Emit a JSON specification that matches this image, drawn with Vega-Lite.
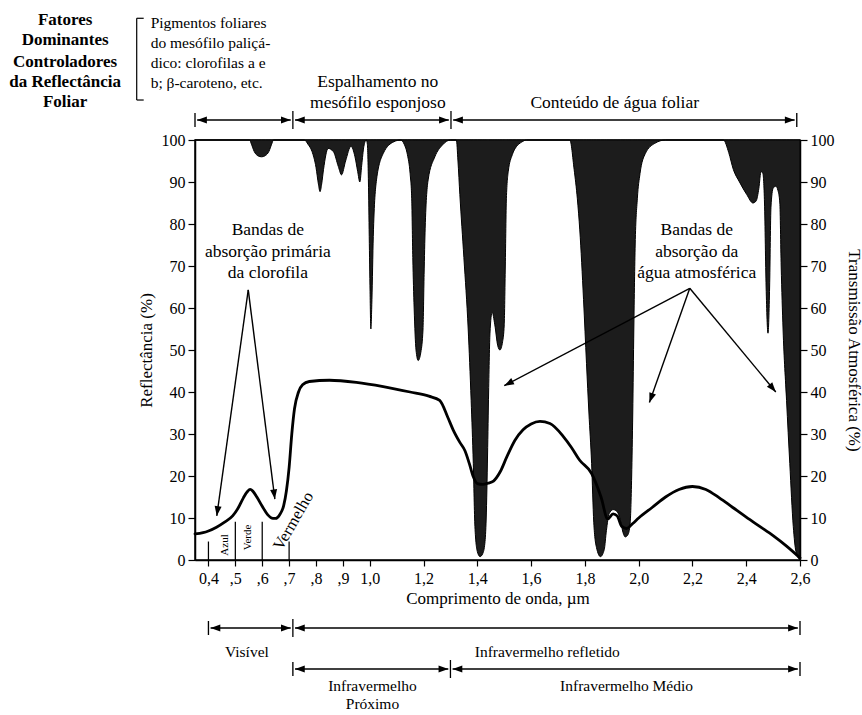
{
  "$schema": "https://vega.github.io/schema/vega-lite/v6.json",
  "width": 605,
  "height": 420,
  "autosize": "none",
  "padding": {"left": 195, "top": 140, "right": 62, "bottom": 155},
  "background": "white",
  "config": {
    "font": "Liberation Serif",
    "view": {"stroke": "black", "strokeWidth": 1.5},
    "axis": {
      "labelFont": "Liberation Serif", "titleFont": "Liberation Serif",
      "labelFontSize": 16, "titleFontSize": 17, "titleFontWeight": "normal",
      "labelColor": "black", "titleColor": "black", "domainColor": "black",
      "tickColor": "black", "domainWidth": 1.5, "tickWidth": 1.2, "tickSize": 7,
      "grid": false, "labelPadding": 3
    }
  },
  "datasets": {
    "trans": [
      {"lam":0.35,"T":100},{"lam":0.553,"T":100},{"lam":0.56,"T":99},{"lam":0.57,"T":97.3},{"lam":0.585,"T":96.2},{"lam":0.598,"T":96},{"lam":0.612,"T":96.3},{"lam":0.625,"T":97.3},{"lam":0.635,"T":99},{"lam":0.642,"T":100},
      {"lam":0.757,"T":100},{"lam":0.77,"T":99},{"lam":0.785,"T":97.3},{"lam":0.8,"T":93.5},{"lam":0.809,"T":89.5},{"lam":0.815,"T":87.7},{"lam":0.821,"T":89.5},{"lam":0.828,"T":93},{"lam":0.845,"T":98},{"lam":0.865,"T":97.2},{"lam":0.883,"T":93.7},{"lam":0.895,"T":91.7},{"lam":0.91,"T":95},{"lam":0.93,"T":98.5},{"lam":0.945,"T":96},{"lam":0.955,"T":92.5},{"lam":0.963,"T":90},{"lam":0.97,"T":94},{"lam":0.978,"T":98.5},{"lam":0.987,"T":100},
      {"lam":0.991,"T":99},{"lam":0.995,"T":90},{"lam":0.998,"T":77},{"lam":1.001,"T":64},{"lam":1.004,"T":55},{"lam":1.008,"T":62},{"lam":1.013,"T":77},{"lam":1.025,"T":90.5},{"lam":1.05,"T":96.8},{"lam":1.09,"T":99.6},{"lam":1.115,"T":100},
      {"lam":1.128,"T":99},{"lam":1.14,"T":96.5},{"lam":1.15,"T":92},{"lam":1.156,"T":86},{"lam":1.16,"T":72},{"lam":1.165,"T":60},{"lam":1.172,"T":50},{"lam":1.18,"T":47.5},{"lam":1.19,"T":49.5},{"lam":1.198,"T":55},{"lam":1.202,"T":68},{"lam":1.206,"T":79},{"lam":1.217,"T":90.5},{"lam":1.242,"T":96},{"lam":1.27,"T":98.8},{"lam":1.3,"T":100},
      {"lam":1.322,"T":100},{"lam":1.328,"T":95},{"lam":1.335,"T":87},{"lam":1.35,"T":72},{"lam":1.366,"T":55},{"lam":1.377,"T":38},{"lam":1.385,"T":23},{"lam":1.391,"T":8},{"lam":1.4,"T":2},{"lam":1.41,"T":0.8},{"lam":1.42,"T":1.5},{"lam":1.428,"T":4},{"lam":1.433,"T":10},{"lam":1.438,"T":25},{"lam":1.442,"T":40},{"lam":1.447,"T":54},{"lam":1.455,"T":59},{"lam":1.465,"T":56},{"lam":1.476,"T":51},{"lam":1.484,"T":50},{"lam":1.494,"T":52},{"lam":1.5,"T":56},{"lam":1.504,"T":70},{"lam":1.508,"T":86},{"lam":1.515,"T":92.5},{"lam":1.53,"T":96.5},{"lam":1.545,"T":98.4},{"lam":1.565,"T":99.5},{"lam":1.583,"T":100},
      {"lam":1.744,"T":100},{"lam":1.76,"T":93},{"lam":1.772,"T":86},{"lam":1.781,"T":78.6},{"lam":1.795,"T":62},{"lam":1.806,"T":46.8},{"lam":1.815,"T":35},{"lam":1.825,"T":23},{"lam":1.833,"T":9},{"lam":1.843,"T":3},{"lam":1.858,"T":0.8},{"lam":1.872,"T":2.5},{"lam":1.88,"T":7},{"lam":1.89,"T":11},{"lam":1.905,"T":12},{"lam":1.92,"T":11.5},{"lam":1.932,"T":9.5},{"lam":1.942,"T":6.5},{"lam":1.95,"T":5.5},{"lam":1.96,"T":6},{"lam":1.968,"T":8.5},{"lam":1.974,"T":20},{"lam":1.978,"T":35},{"lam":1.982,"T":55},{"lam":1.987,"T":75},{"lam":1.995,"T":86},{"lam":2.005,"T":92},{"lam":2.025,"T":96.8},{"lam":2.06,"T":99.2},{"lam":2.1,"T":100},
      {"lam":2.315,"T":100},{"lam":2.335,"T":97},{"lam":2.352,"T":93},{"lam":2.375,"T":90},{"lam":2.402,"T":87},{"lam":2.425,"T":85},{"lam":2.437,"T":85.5},{"lam":2.447,"T":88.5},{"lam":2.455,"T":92.5},{"lam":2.462,"T":92},{"lam":2.468,"T":85},{"lam":2.474,"T":65},{"lam":2.481,"T":54},{"lam":2.487,"T":65},{"lam":2.492,"T":84},{"lam":2.5,"T":88.5},{"lam":2.51,"T":89},{"lam":2.518,"T":88},{"lam":2.525,"T":85},{"lam":2.53,"T":70},{"lam":2.537,"T":55},{"lam":2.55,"T":38},{"lam":2.562,"T":23},{"lam":2.575,"T":8},{"lam":2.585,"T":2},{"lam":2.6,"T":0}
    ],
    "refl": [
      {"x":0.35,"y":6.2},{"x":0.38,"y":6.5},{"x":0.4,"y":6.9},{"x":0.43,"y":7.8},{"x":0.46,"y":9},{"x":0.49,"y":10.5},{"x":0.51,"y":12.3},{"x":0.53,"y":14.8},{"x":0.545,"y":16.3},{"x":0.555,"y":16.8},{"x":0.565,"y":16.4},{"x":0.58,"y":15},{"x":0.6,"y":12.8},{"x":0.62,"y":10.8},{"x":0.64,"y":9.9},{"x":0.65,"y":9.9},{"x":0.665,"y":10.8},{"x":0.68,"y":13},{"x":0.69,"y":16.5},{"x":0.7,"y":22},{"x":0.71,"y":30},{"x":0.72,"y":36},{"x":0.735,"y":40},{"x":0.75,"y":41.7},{"x":0.775,"y":42.5},{"x":0.85,"y":42.8},{"x":0.95,"y":42.3},{"x":1.05,"y":41.3},{"x":1.15,"y":40},{"x":1.22,"y":39},{"x":1.26,"y":38},{"x":1.29,"y":34},{"x":1.31,"y":31},{"x":1.335,"y":28},{"x":1.354,"y":26},{"x":1.37,"y":23},{"x":1.385,"y":19.8},{"x":1.4,"y":18.2},{"x":1.42,"y":18},{"x":1.44,"y":18.3},{"x":1.46,"y":18.8},{"x":1.485,"y":21},{"x":1.51,"y":24.6},{"x":1.54,"y":28.5},{"x":1.57,"y":31},{"x":1.6,"y":32.4},{"x":1.633,"y":33},{"x":1.67,"y":32.5},{"x":1.72,"y":29.4},{"x":1.75,"y":26.8},{"x":1.78,"y":23.8},{"x":1.825,"y":20.6},{"x":1.86,"y":15},{"x":1.885,"y":9.8},{"x":1.905,"y":11},{"x":1.92,"y":10.5},{"x":1.937,"y":8},{"x":1.955,"y":7.5},{"x":1.978,"y":8.7},{"x":2.0,"y":10},{"x":2.05,"y":12.5},{"x":2.1,"y":15},{"x":2.15,"y":16.8},{"x":2.2,"y":17.5},{"x":2.25,"y":16.8},{"x":2.3,"y":14.8},{"x":2.35,"y":12.5},{"x":2.4,"y":10.2},{"x":2.45,"y":8},{"x":2.5,"y":5.8},{"x":2.55,"y":3.3},{"x":2.6,"y":0.5}
    ],
    "segs": [
      {"x":0.358,"x2":0.706,"y":104.76,"y2":104.76,"k":"arrow"},
      {"x":0.722,"x2":1.294,"y":104.76,"y2":104.76,"k":"arrow"},
      {"x":1.31,"x2":2.58,"y":104.76,"y2":104.76,"k":"arrow"},
      {"x":0.35,"x2":0.35,"y":103.1,"y2":106.43,"k":"tick"},
      {"x":0.714,"x2":0.714,"y":102.6,"y2":106.9,"k":"div"},
      {"x":1.302,"x2":1.302,"y":102.6,"y2":106.9,"k":"div"},
      {"x":2.588,"x2":2.588,"y":103.1,"y2":106.43,"k":"tick"},
      {"x":0.408,"x2":0.706,"y":-16.19,"y2":-16.19,"k":"arrow"},
      {"x":0.722,"x2":2.592,"y":-16.19,"y2":-16.19,"k":"arrow"},
      {"x":0.4,"x2":0.4,"y":-17.86,"y2":-14.52,"k":"tick"},
      {"x":0.714,"x2":0.714,"y":-18.33,"y2":-14.05,"k":"div"},
      {"x":2.6,"x2":2.6,"y":-17.86,"y2":-14.52,"k":"tick"},
      {"x":0.722,"x2":1.292,"y":-25.95,"y2":-25.95,"k":"arrow"},
      {"x":1.308,"x2":2.592,"y":-25.95,"y2":-25.95,"k":"arrow"},
      {"x":0.714,"x2":0.714,"y":-27.62,"y2":-24.28,"k":"tick"},
      {"x":1.3,"x2":1.3,"y":-28.09,"y2":-23.81,"k":"div"},
      {"x":2.6,"x2":2.6,"y":-27.62,"y2":-24.28,"k":"tick"},
      {"x":0.548,"x2":0.431,"y":64.3,"y2":10.5,"k":"arrow"},
      {"x":0.548,"x2":0.647,"y":64.3,"y2":14.5,"k":"arrow"},
      {"x":2.19,"x2":1.5,"y":64.7,"y2":41.5,"k":"arrow"},
      {"x":2.19,"x2":2.04,"y":64.7,"y2":37.5,"k":"arrow"},
      {"x":2.19,"x2":2.51,"y":64.7,"y2":40,"k":"arrow"},
      {"x":0.4,"x2":0.4,"y":0,"y2":4.4,"k":"sep"},
      {"x":0.5,"x2":0.5,"y":0,"y2":9.1,"k":"sep"},
      {"x":0.6,"x2":0.6,"y":0,"y2":9.1,"k":"sep"},
      {"x":0.7,"x2":0.7,"y":0,"y2":4.4,"k":"sep"},
      {"x":0.1332,"x2":0.1332,"y":109.52,"y2":128.98,"k":"bracket"},
      {"x":0.1332,"x2":0.1592,"y":128.98,"y2":128.98,"k":"bracket"},
      {"x":0.1332,"x2":0.1592,"y":109.52,"y2":109.52,"k":"bracket"}
    ],
    "heads": [
      {"x":0.358,"y":104.76,"a":180},{"x":0.706,"y":104.76,"a":0},{"x":0.722,"y":104.76,"a":180},{"x":1.294,"y":104.76,"a":0},{"x":1.31,"y":104.76,"a":180},{"x":2.58,"y":104.76,"a":0},
      {"x":0.408,"y":-16.19,"a":180},{"x":0.706,"y":-16.19,"a":0},{"x":0.722,"y":-16.19,"a":180},{"x":2.592,"y":-16.19,"a":0},
      {"x":0.722,"y":-25.95,"a":180},{"x":1.292,"y":-25.95,"a":0},{"x":1.308,"y":-25.95,"a":180},{"x":2.592,"y":-25.95,"a":0},
      {"x":0.431,"y":10.5,"a":97.9},{"x":0.647,"y":14.5,"a":82.7},{"x":1.5,"y":41.5,"a":152.3},{"x":2.04,"y":37.5,"a":109.5},{"x":2.51,"y":40,"a":50.3}
    ],
    "texts": [
      {"x":-0.133,"y":128.57,"t":"Fatores","g":"bold"},
      {"x":-0.133,"y":123.81,"t":"Dominantes","g":"bold"},
      {"x":-0.133,"y":118.64,"t":"Controladores","g":"bold"},
      {"x":-0.133,"y":113.88,"t":"da Reflectância","g":"bold"},
      {"x":-0.133,"y":109.12,"t":"Foliar","g":"bold"},
      {"x":0.185,"y":127.79,"t":"Pigmentos foliares","g":"left"},
      {"x":0.185,"y":123.02,"t":"do mesófilo paliçá-","g":"left"},
      {"x":0.185,"y":118.26,"t":"dico: clorofilas a e","g":"left"},
      {"x":0.185,"y":113.5,"t":"b; β-caroteno, etc.","g":"left"},
      {"x":1.03,"y":113.88,"t":"Espalhamento no","g":"c"},
      {"x":1.03,"y":108.9,"t":"mesófilo esponjoso","g":"c"},
      {"x":1.911,"y":108.9,"t":"Conteúdo de água foliar","g":"c"},
      {"x":0.621,"y":78.57,"t":"Bandas de","g":"c"},
      {"x":0.621,"y":73.4,"t":"absorção primária","g":"c"},
      {"x":0.621,"y":68.25,"t":"da clorofila","g":"c"},
      {"x":2.216,"y":78.57,"t":"Bandas de","g":"c"},
      {"x":2.216,"y":73.4,"t":"absorção da","g":"c"},
      {"x":2.216,"y":68.25,"t":"água atmosférica","g":"c"},
      {"x":0.543,"y":-21.9,"t":"Visível","g":"b"},
      {"x":1.66,"y":-21.9,"t":"Infravermelho refletido","g":"b"},
      {"x":1.01,"y":-30.0,"t":"Infravermelho","g":"b"},
      {"x":1.01,"y":-34.4,"t":"Próximo","g":"b"},
      {"x":1.955,"y":-30.0,"t":"Infravermelho Médio","g":"b"},
      {"x":0.4616,"y":3.57,"t":"Azul","g":"small"},
      {"x":0.548,"y":5.36,"t":"Verde","g":"small"},
      {"x":0.716,"y":9.3,"t":"Vermelho","g":"verm"}
    ]
  },
  "layer": [
    {
      "data": {"name": "trans"},
      "mark": {"type": "area", "interpolate": "monotone", "color": "#1c1c1c", "stroke": "black", "strokeWidth": 1},
      "encoding": {
        "x": {
          "field": "lam", "type": "quantitative",
          "scale": {"domain": [0.35, 2.6], "nice": false, "zero": false},
          "axis": {
            "title": "Comprimento de onda, µm",
            "values": [0.4,0.5,0.6,0.7,0.8,0.9,1.0,1.2,1.4,1.6,1.8,2.0,2.2,2.4,2.6],
            "labelExpr": "datum.value < 0.45 ? '0,4' : (datum.value < 0.95 ? ',' + format(datum.value * 10, '.0f') : replace(format(datum.value, '.1f'), '.', ','))",
            "tickSize": 6, "labelPadding": 4, "titlePadding": 4, "labelFlush": false, "labelOverlap": false
          }
        },
        "y": {
          "field": "T", "type": "quantitative",
          "scale": {"domain": [0, 100], "nice": false, "zero": false},
          "axis": {
            "orient": "right", "title": "Transmissão Atmosférica (%)",
            "values": [0,10,20,30,40,50,60,70,80,90,100],
            "titlePadding": 10, "labelPadding": 3
          }
        },
        "y2": {"datum": 100}
      }
    },
    {
      "encoding": {
        "x": {
          "field": "x", "type": "quantitative",
          "scale": {"domain": [0.35, 2.6], "nice": false, "zero": false},
          "axis": {
            "title": "Comprimento de onda, µm",
            "values": [0.4,0.5,0.6,0.7,0.8,0.9,1.0,1.2,1.4,1.6,1.8,2.0,2.2,2.4,2.6],
            "labelExpr": "datum.value < 0.45 ? '0,4' : (datum.value < 0.95 ? ',' + format(datum.value * 10, '.0f') : replace(format(datum.value, '.1f'), '.', ','))",
            "tickSize": 6, "labelPadding": 4, "titlePadding": 4, "labelFlush": false, "labelOverlap": false
          }
        },
        "y": {
          "field": "y", "type": "quantitative",
          "scale": {"domain": [0, 100], "nice": false, "zero": false},
          "axis": {
            "orient": "left", "title": "Reflectância (%)",
            "values": [0,10,20,30,40,50,60,70,80,90,100],
            "titlePadding": 6, "labelPadding": 3
          }
        }
      },
      "layer": [
        {
          "data": {"name": "refl"},
          "mark": {"type": "line", "interpolate": "monotone", "color": "black", "strokeWidth": 2.8, "strokeCap": "round"}
        },
        {
          "data": {"name": "segs"},
          "mark": {"type": "rule", "color": "black"},
          "encoding": {
            "x2": {"field": "x2"},
            "y2": {"field": "y2"},
            "strokeWidth": {"field": "k", "type": "nominal", "scale": {"domain": ["arrow","tick","div","sep","bracket"], "range": [1.4,1.2,2.8,1.3,1.6]}, "legend": null}
          }
        },
        {
          "data": {"name": "heads"},
          "mark": {"type": "point", "shape": "M0,0L-1,-0.36L-1,0.36Z", "filled": true, "color": "black", "size": 380, "opacity": 1},
          "encoding": {
            "angle": {"field": "a", "type": "quantitative", "scale": null}
          }
        },
        {
          "data": {"name": "texts"},
          "transform": [{"filter": "datum.g === 'bold'"}],
          "mark": {"type": "text", "fontWeight": "bold", "fontSize": 17, "align": "center", "baseline": "middle", "color": "black", "font": "Liberation Serif"},
          "encoding": {"text": {"field": "t"}}
        },
        {
          "data": {"name": "texts"},
          "transform": [{"filter": "datum.g === 'left'"}],
          "mark": {"type": "text", "fontSize": 15.5, "align": "left", "baseline": "middle", "color": "black", "font": "Liberation Serif"},
          "encoding": {"text": {"field": "t"}}
        },
        {
          "data": {"name": "texts"},
          "transform": [{"filter": "datum.g === 'c'"}],
          "mark": {"type": "text", "fontSize": 17.5, "align": "center", "baseline": "middle", "color": "black", "font": "Liberation Serif"},
          "encoding": {"text": {"field": "t"}}
        },
        {
          "data": {"name": "texts"},
          "transform": [{"filter": "datum.g === 'b'"}],
          "mark": {"type": "text", "fontSize": 15.5, "align": "center", "baseline": "middle", "color": "black", "font": "Liberation Serif"},
          "encoding": {"text": {"field": "t"}}
        },
        {
          "data": {"name": "texts"},
          "transform": [{"filter": "datum.g === 'small'"}],
          "mark": {"type": "text", "fontSize": 11, "angle": -90, "align": "center", "baseline": "middle", "color": "black", "font": "Liberation Serif"},
          "encoding": {"text": {"field": "t"}}
        },
        {
          "data": {"name": "texts"},
          "transform": [{"filter": "datum.g === 'verm'"}],
          "mark": {"type": "text", "fontSize": 16.5, "angle": -60, "align": "center", "baseline": "middle", "color": "black", "font": "Liberation Serif"},
          "encoding": {"text": {"field": "t"}}
        }
      ]
    }
  ],
  "resolve": {"scale": {"y": "independent"}}
}
